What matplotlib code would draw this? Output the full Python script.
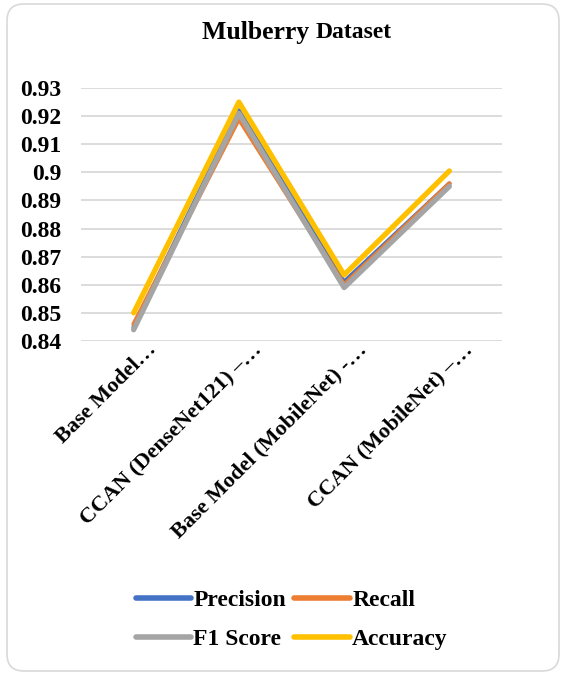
import matplotlib
matplotlib.use("Agg")
import matplotlib.pyplot as plt
import matplotlib.transforms as mtransforms
from matplotlib.patches import FancyBboxPatch

plt.rcParams['font.family'] = ['Liberation Serif', 'DejaVu Serif']
plt.rcParams['font.weight'] = 'bold'

models = ["Base Model…", "CCAN (DenseNet121) –…", "Base Model (MobileNet) -…", "CCAN (MobileNet) –…"]
precision = [0.845, 0.922, 0.861, 0.896]
recall = [0.846, 0.919, 0.860, 0.896]
f1_score = [0.844, 0.921, 0.859, 0.895]
accuracy = [0.850, 0.925, 0.8635, 0.9005]
yticks = [0.84, 0.85, 0.86, 0.87, 0.88, 0.89, 0.90, 0.91, 0.92, 0.93]
ytick_labels = ["0.84", "0.85", "0.86", "0.87", "0.88", "0.89", "0.9", "0.91", "0.92", "0.93"]

W, H = 561, 675
fig = plt.figure(figsize=(W / 100, H / 100), dpi=100)

# rounded chart border, kept behind the axes
border = FancyBboxPatch((7 / W, 4 / H), (552 / W), (667 / H),
                        boxstyle="round,pad=0,rounding_size=0.03",
                        transform=fig.transFigure, facecolor='white',
                        edgecolor='#d9d9d9', linewidth=1.2, mutation_aspect=W / H,
                        zorder=-10)
fig.patches.append(border)

ax = fig.add_axes([81 / W, 1 - 341 / H, 421 / W, 253 / H])
ax.set_facecolor('none')
x = list(range(len(models)))

lp, = ax.plot(x, precision, color='#4472c4', lw=3.2, label='Precision', solid_capstyle='round')
lr, = ax.plot(x, recall, color='#ed7d31', lw=3.2, label='Recall', solid_capstyle='round')
lf, = ax.plot(x, f1_score, color='#a5a5a5', lw=3.8, label='F1 Score', solid_capstyle='round')
la, = ax.plot(x, accuracy, color='#ffc000', lw=3.8, label='Accuracy', solid_capstyle='round')

ax.set_xlim(-0.5, len(models) - 0.5)
ax.set_ylim(0.84, 0.93)
ax.set_yticks(yticks)
ax.set_yticklabels(ytick_labels, fontsize=17, fontweight='bold')
ax.set_xticks(x)
ax.set_xticklabels(models, rotation=45, ha='right', va='center', fontsize=16,
                   fontweight='bold', rotation_mode='anchor')
ax.tick_params(axis='both', length=0)
ax.tick_params(axis='y', pad=14)
ax.tick_params(axis='x', pad=0)
# nudge the slanted labels so their ends sit just right of each category
shift = mtransforms.ScaledTranslation(20 / 100, -6 / 100, fig.dpi_scale_trans)
for lbl in ax.get_xticklabels():
    lbl.set_transform(lbl.get_transform() + shift)
ax.grid(axis='y', color='#d9d9d9', lw=1.3)
ax.set_axisbelow(True)
for s in ax.spines.values():
    s.set_visible(False)

# title: "Mulberry" set slightly larger than "Dataset"
t1 = fig.text(202 / W, 1 - 33 / H, "Mulberry ", fontsize=18.5, fontweight='bold',
              ha='left', va='center')
fig.canvas.draw()
bb = t1.get_window_extent()
fig.text(bb.x1 / W, 1 - 33 / H, "Dataset", fontsize=17, fontweight='bold',
         ha='left', va='center')

# legend filled column-wise, so order handles to read row by row
leg = fig.legend([lp, lf, lr, la], ['Precision', 'F1 Score', 'Recall', 'Accuracy'],
                 loc='center', bbox_to_anchor=(0.52, 1 - 620 / H), ncol=2,
                 frameon=False, handlelength=2.35, handletextpad=0.1,
                 columnspacing=0.35, labelspacing=0.75,
                 prop={'weight': 'bold', 'size': 17})
for line in leg.get_lines():
    line.set_linewidth(4)

fig.savefig("out.png", dpi=100)
